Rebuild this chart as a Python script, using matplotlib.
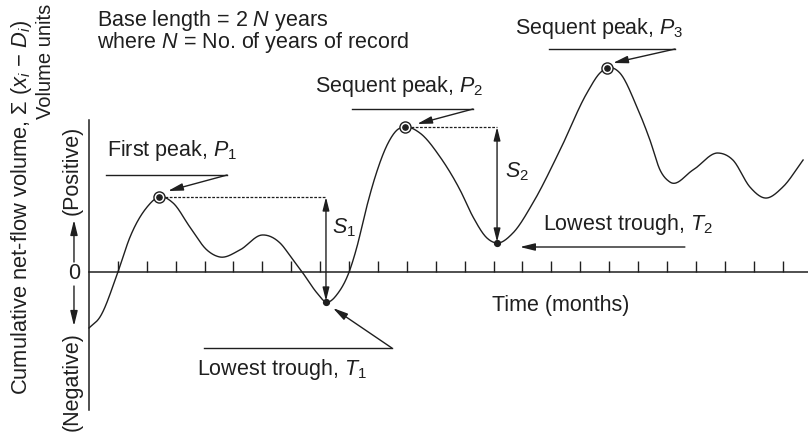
import numpy as np
import matplotlib
matplotlib.use('Agg')
import matplotlib.pyplot as plt

plt.rcParams['font.family'] = ['Liberation Sans', 'DejaVu Sans']
plt.rcParams['mathtext.fontset'] = 'custom'
plt.rcParams['mathtext.rm'] = 'Liberation Sans'
plt.rcParams['mathtext.it'] = 'Liberation Sans:italic'
plt.rcParams['mathtext.bf'] = 'Liberation Sans:bold'

# ---- data (months, volume units) ----
time_months = [0.0, 0.38, 1.0, 1.42, 2.01, 2.42, 2.91, 3.49, 4.08, 4.53, 5.22, 5.99,
               6.61, 7.06, 7.40, 7.89, 8.20, 8.62, 9.00, 9.27, 9.58, 9.90, 10.35,
               10.66, 10.93, 11.45, 12.15, 12.84, 13.29, 13.77, 14.12, 14.67, 15.36,
               16.30, 17.23, 17.68, 17.92, 18.37, 18.96, 19.41, 19.76, 20.10, 20.90,
               21.76, 22.28, 22.87, 23.39, 24.01, 24.71]
cum_volume = [-5.6, -4.5, 0.0, 3.5, 6.5, 7.5, 6.9, 4.5, 2.2, 1.5, 2.2, 3.7,
              2.9, 1.2, -0.1, -2.1, -3.0, -2.1, 0.0, 2.5, 6.2, 9.5, 12.9,
              14.2, 14.5, 13.9, 11.5, 8.2, 5.5, 3.4, 2.9, 3.9, 6.9,
              12.2, 17.9, 19.9, 20.4, 19.9, 16.5, 13.2, 10.2, 9.0, 10.2,
              11.9, 11.2, 8.5, 7.4, 8.5, 11.2]
tick_months = list(range(1, 25))
peak_months = [2.42, 10.93, 17.92]
peak_values = [7.5, 14.5, 20.4]
trough_months = [8.20, 14.12]
trough_values = [-3.0, 2.9]

INK = '#1f1f1f'
FS = 15.5


def hermite(x, y, n=40):
    x = np.asarray(x, float)
    y = np.asarray(y, float)
    h = np.diff(x)
    s = np.diff(y) / h
    d = np.empty_like(y)
    d[1:-1] = (s[:-1] * h[1:] + s[1:] * h[:-1]) / (h[:-1] + h[1:])
    d[0] = s[0]
    d[-1] = s[-1]
    xs, ys = [], []
    for i in range(len(h)):
        t = np.linspace(0, 1, n, endpoint=(i == len(h) - 1))
        h00 = 2 * t**3 - 3 * t**2 + 1
        h10 = t**3 - 2 * t**2 + t
        h01 = -2 * t**3 + 3 * t**2
        h11 = t**3 - t**2
        xs.append(x[i] + t * h[i])
        ys.append(h00 * y[i] + h10 * h[i] * d[i] + h01 * y[i + 1] + h11 * h[i] * d[i + 1])
    return np.concatenate(xs), np.concatenate(ys)


fig = plt.figure(figsize=(8.08, 4.36), dpi=100)
ax = fig.add_axes([0, 0, 1, 1])
ax.set_xlim(-3.08, 24.88)
ax.set_ylim(-16.4, 27.2)
ax.axis('off')

# axes
ax.plot([0, 0], [15.2, -13.8], color=INK, lw=1.1)
ax.plot([0, 24.9], [0, 0], color=INK, lw=1.1)
ax.vlines(tick_months, 0, 1.1, color=INK, lw=1.0)

# curve
cx, cy = hermite(time_months, cum_volume)
ax.plot(cx, cy, color=INK, lw=1.0)

# markers
ax.plot(peak_months, peak_values, 'o', ms=8.0, mfc='white', mec=INK, mew=1.0, zorder=5)
ax.plot(peak_months, peak_values, 'o', ms=3.8, color=INK, zorder=6)
ax.plot(trough_months, trough_values, 'o', ms=4.2, color=INK, zorder=6)

# dotted lines & storage arrows
ax.plot([peak_months[0] + 0.2, trough_months[0]], [peak_values[0]] * 2, color=INK, lw=0.9,
        dashes=(2.2, 1.2))
ax.plot([peak_months[1] + 0.2, trough_months[1]], [peak_values[1]] * 2, color=INK, lw=0.9,
        dashes=(2.2, 1.2))
dbl = dict(arrowstyle='<|-|>,head_length=0.8,head_width=0.2', mutation_scale=10,
           color=INK, lw=1.0, shrinkA=0, shrinkB=0)
ax.annotate('', xy=(trough_months[0], peak_values[0]), xytext=(trough_months[0], trough_values[0] + 0.1),
            arrowprops=dbl)
ax.annotate('', xy=(trough_months[1], peak_values[1]), xytext=(trough_months[1], trough_values[1] + 0.1),
            arrowprops=dbl)
ax.text(8.41, 3.9, '$S_1$', fontsize=FS, color=INK, ha='left', va='baseline')
ax.text(14.39, 9.5, '$S_2$', fontsize=FS, color=INK, ha='left', va='baseline')

one = dict(arrowstyle='-|>,head_length=0.9,head_width=0.22', mutation_scale=10,
           color=INK, lw=1.0, shrinkA=0, shrinkB=0)

# First peak
ax.text(0.62, 11.6, 'First peak, $P_1$', fontsize=FS, color=INK, va='baseline')
ax.plot([0.59, 4.78], [9.7, 9.7], color=INK, lw=1.0)
ax.annotate('', xy=(2.73, 8.1), xytext=(4.78, 9.7), arrowprops=one)

# Sequent peak P2
ax.text(7.82, 18.0, 'Sequent peak, $P_2$', fontsize=FS, color=INK, va='baseline')
ax.plot([9.10, 13.29], [16.3, 16.3], color=INK, lw=1.0)
ax.annotate('', xy=(11.35, 14.8), xytext=(13.29, 16.3), arrowprops=one)

# Sequent peak P3
ax.text(14.74, 23.8, 'Sequent peak, $P_3$', fontsize=FS, color=INK, va='baseline')
ax.plot([15.92, 20.28], [22.3, 22.3], color=INK, lw=1.0)
ax.annotate('', xy=(18.13, 20.9), xytext=(20.28, 22.3), arrowprops=one)

# Lowest trough T1
ax.text(3.74, -10.3, 'Lowest trough, $T_1$', fontsize=FS, color=INK, va='baseline')
ax.plot([3.98, 10.48], [-7.6, -7.6], color=INK, lw=1.0)
ax.annotate('', xy=(8.44, -3.6), xytext=(10.48, -7.6), arrowprops=one)

# Lowest trough T2
ax.text(15.71, 4.2, 'Lowest trough, $T_2$', fontsize=FS, color=INK, va='baseline')
ax.annotate('', xy=(14.91, 2.5), xytext=(20.62, 2.5), arrowprops=one)

# x label
ax.text(13.94, -3.9, 'Time (months)', fontsize=FS, color=INK, va='baseline')

# header notes
ax.text(0.28, 24.6, 'Base length = 2 $N$ years', fontsize=FS, color=INK, va='baseline')
ax.text(0.28, 22.4, 'where $N$ = No. of years of record', fontsize=FS, color=INK, va='baseline')

# y labels
t_main = ax.text(-2.32, 6.45, 'Cumulative net-flow volume, Σ ($x_i$ − $D_i$)', fontsize=FS,
                 color=INK, rotation=90, ha='center', va='center')
ax.text(-1.52, 21.1, 'Volume units', fontsize=14.5, color=INK, rotation=90,
        ha='center', va='center')
ax.text(-0.59, 10.2, '(Positive)', fontsize=FS, color=INK, rotation=90, ha='center', va='center')
ax.text(-0.59, -11.0, '(Negative)', fontsize=FS, color=INK, rotation=90, ha='center', va='center')
ax.text(-0.5, -0.1, '0', fontsize=FS, color=INK, ha='center', va='center')
ax.annotate('', xy=(-0.52, 5.2), xytext=(-0.52, 1.0), arrowprops=one)
ax.annotate('', xy=(-0.52, -5.4), xytext=(-0.52, -1.4), arrowprops=one)

# fit the long rotated label to its measured length (pixels)
renderer = fig.canvas.get_renderer()
h = t_main.get_window_extent(renderer).height
t_main.set_fontsize(FS * 375.0 / h)

fig.savefig('out.png', dpi=100)
